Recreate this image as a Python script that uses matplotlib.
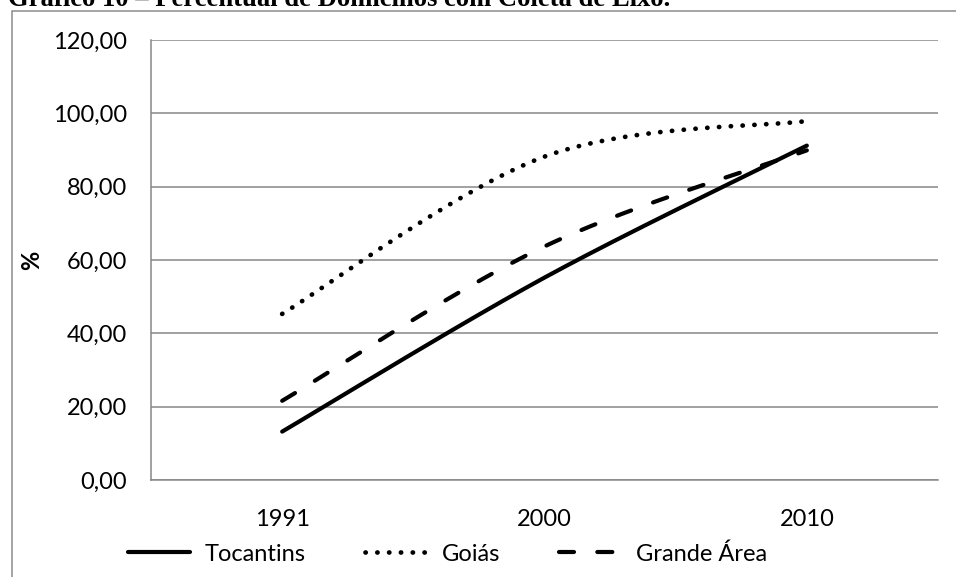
import numpy as np
import matplotlib
matplotlib.use("Agg")
import matplotlib.pyplot as plt
from matplotlib.patches import Rectangle

# Percentual de domicílios com coleta de lixo
years = ["1991", "2000", "2010"]
tocantins = [13.2, 55.2, 91.2]
goias = [45.3, 88.2, 97.9]
grande_area = [21.6, 63.7, 89.9]
series_names = ["Tocantins", "Goiás", "Grande Área"]
y_ticks = [0, 20, 40, 60, 80, 100, 120]
title_text = "Gráfico 10 – Percentual de Domicílios com Coleta de Lixo."

W, H = 956, 577
GRID = "#878787"
FONT = "Lato"


def smooth(xs, ys, n=80):
    """Bezier curve through every point (Catmull-Rom style control points)."""
    pts = np.column_stack([xs, ys]).astype(float)
    ext = np.vstack([pts[0], pts, pts[-1]])
    parts = []
    t = np.linspace(0, 1, n)[:, None]
    for i in range(len(pts) - 1):
        p0, p1, p2, p3 = ext[i], ext[i + 1], ext[i + 2], ext[i + 3]
        c1 = p1 + (p2 - p0) / 6.0
        c2 = p2 - (p3 - p1) / 6.0
        seg = (1 - t) ** 3 * p1 + 3 * t * (1 - t) ** 2 * c1 + 3 * t ** 2 * (1 - t) * c2 + t ** 3 * p2
        parts.append(seg if i == 0 else seg[1:])
    c = np.vstack(parts)
    return c[:, 0], c[:, 1]


fig = plt.figure(figsize=(W / 100, H / 100), dpi=100)

# outer chart frame (runs past the right and bottom edges)
fig.patches.append(Rectangle((11.5 / W, -0.1), 1.2, 1 - 10.5 / H + 0.1,
                             transform=fig.transFigure, fill=False,
                             edgecolor="#8c8c8c", linewidth=1.1))

ax = fig.add_axes([151 / W, 1 - 480 / H, (938 - 151) / W, 440 / H])
ax.set_xlim(-0.5, len(years) - 0.5)
ax.set_ylim(y_ticks[0], y_ticks[-1])

x = np.arange(len(years))
styles = [
    dict(linestyle="-", linewidth=3.0),
    dict(linestyle=(0, (0.05, 2.45)), linewidth=3.4),
    dict(linestyle=(0, (3.6, 5.6)), linewidth=3.0),
]
for vals, name, st in zip([tocantins, goias, grande_area], series_names, styles):
    sx, sy = smooth(x, vals)
    ax.plot(sx, sy, color="black", label=name,
            solid_capstyle="round", dash_capstyle="round", **st)

ax.set_yticks(y_ticks)
ax.set_yticklabels([f"{v:.2f}".replace(".", ",") for v in y_ticks])
ax.set_xticks(x)
ax.set_xticklabels(years)
ax.yaxis.grid(True, color=GRID, linewidth=1.1)
ax.set_axisbelow(True)
for s in ["top", "right"]:
    ax.spines[s].set_visible(False)
for s in ["left", "bottom"]:
    ax.spines[s].set_color(GRID)
    ax.spines[s].set_linewidth(1.1)
ax.tick_params(axis="both", length=0, labelsize=17)
ax.tick_params(axis="y", pad=17.5)
ax.tick_params(axis="x", pad=21)
for lab in ax.get_xticklabels() + ax.get_yticklabels():
    lab.set_family(FONT)

fig.text(32 / W, 1 - 260 / H, "%", rotation=90, ha="center", va="center",
         fontsize=17, fontweight="bold", family=FONT)

leg = fig.legend(loc="center", bbox_to_anchor=(447.5 / W, 1 - 554 / H),
                 ncol=3, frameon=False, handlelength=2.6, handletextpad=0.65,
                 columnspacing=2.5, prop=dict(family=FONT, size=17),
                 borderaxespad=0, borderpad=0)

# title, partly above the top edge
title = fig.text(8 / W, 1 - 6 / H, title_text, ha="left", va="baseline",
                 family="Liberation Serif", fontweight="bold", fontsize=16)
r = fig.canvas.get_renderer()
w = title.get_window_extent(r).width
title.set_fontsize(16 * 664 / w)

fig.savefig("out.png", dpi=100)
